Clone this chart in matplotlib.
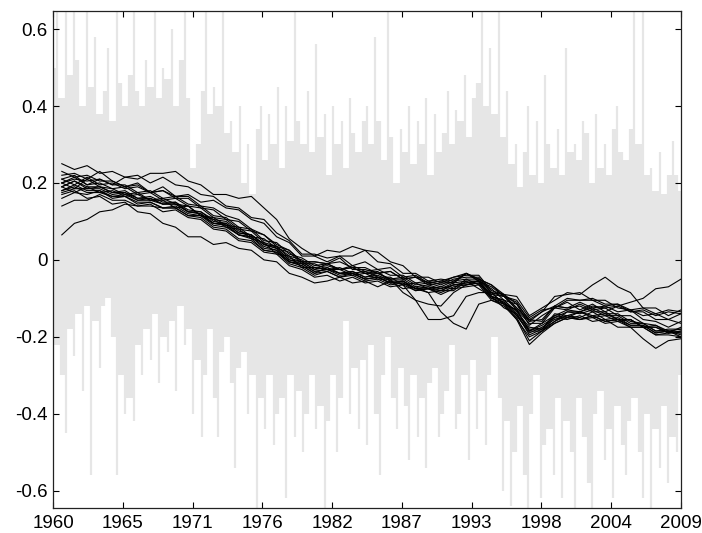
import numpy as np
import matplotlib
matplotlib.use("Agg")
import matplotlib.pyplot as plt

# ---------------- data ----------------
tick_labels = ["1960", "1965", "1971", "1976", "1982", "1987", "1993", "1998", "2004", "2009"]
ytick_vals = [-0.6, -0.4, -0.2, 0.0, 0.2, 0.4, 0.6]
ytick_labels = ["-0.6", "-0.4", "-0.2", "0", "0.2", "0.4", "0.6"]

x_start, x_end = 1960.0, 2009.9
line_start = 1960.7

# gray raw series: upper and lower swings (3 per year, 1960 .. 2009)
gray_hi = [
    0.50, 0.65, 0.42,  0.66, 0.48, 0.66,  0.52, 0.40, 0.66,  0.45, 0.58, 0.38,
    0.44, 0.55, 0.36,  0.66, 0.46, 0.40,  0.48, 0.66, 0.44,  0.40, 0.52, 0.45,
    0.66, 0.42, 0.50,  0.47, 0.60, 0.40,  0.52, 0.66, 0.42,  0.24, 0.30, 0.44,
    0.66, 0.38, 0.45,  0.40, 0.66, 0.33,  0.36, 0.28, 0.40,  0.20, 0.30, 0.17,
    0.34, 0.40, 0.26,  0.38, 0.30, 0.45,  0.24, 0.40, 0.31,  0.66, 0.36, 0.30,
    0.44, 0.28, 0.56,  0.32, 0.38, 0.22,  0.40, 0.30, 0.36,  0.24, 0.42, 0.33,
    0.28, 0.36, 0.40,  0.30, 0.58, 0.36,  0.26, 0.66, 0.32,  0.20, 0.34, 0.28,
    0.40, 0.25, 0.36,  0.30, 0.42, 0.22,  0.38, 0.28, 0.33,  0.44, 0.30, 0.39,
    0.36, 0.48, 0.32,  0.42, 0.46, 0.66,  0.40, 0.55, 0.38,  0.66, 0.32, 0.44,
    0.25, 0.30, 0.19,  0.28, 0.40, 0.22,  0.36, 0.20, 0.48,  0.30, 0.24, 0.34,
    0.22, 0.55, 0.28,  0.30, 0.26, 0.36,  0.33, 0.20, 0.38,  0.24, 0.30, 0.22,
    0.34, 0.40, 0.28,  0.26, 0.34, 0.66,  0.30, 0.66, 0.22,  0.24, 0.18, 0.28,
    0.17, 0.22, 0.31,  0.22, 0.18,
]
gray_lo = [
    -0.40, -0.22, -0.30,  -0.45, -0.18, -0.25,  -0.14, -0.34, -0.12,  -0.56, -0.16, -0.28,
    -0.12, -0.10, -0.20,  -0.56, -0.30, -0.40,  -0.36, -0.42, -0.22,  -0.30, -0.18, -0.26,
    -0.14, -0.32, -0.20,  -0.24, -0.16, -0.34,  -0.12, -0.22, -0.18,  -0.40, -0.26, -0.46,
    -0.30, -0.18, -0.36,  -0.46, -0.24, -0.20,  -0.32, -0.54, -0.28,  -0.24, -0.40, -0.30,
    -0.66, -0.36, -0.44,  -0.30, -0.48, -0.40,  -0.36, -0.62, -0.30,  -0.46, -0.34, -0.50,
    -0.40, -0.30, -0.44,  -0.38, -0.66, -0.42,  -0.30, -0.50, -0.36,  -0.16, -0.40, -0.28,
    -0.44, -0.26, -0.48,  -0.22, -0.40, -0.56,  -0.30, -0.20, -0.36,  -0.44, -0.28, -0.38,
    -0.52, -0.30, -0.46,  -0.36, -0.54, -0.32,  -0.28, -0.46, -0.40,  -0.34, -0.22, -0.44,
    -0.40, -0.30, -0.52,  -0.26, -0.44, -0.34,  -0.48, -0.30, -0.20,  -0.36, -0.60, -0.42,
    -0.64, -0.50, -0.38,  -0.56, -0.66, -0.40,  -0.30, -0.62, -0.48,  -0.44, -0.56, -0.36,
    -0.62, -0.42, -0.50,  -0.66, -0.36, -0.46,  -0.58, -0.66, -0.40,  -0.34, -0.52, -0.44,
    -0.62, -0.38, -0.48,  -0.56, -0.42, -0.36,  -0.50, -0.62, -0.40,  -0.66, -0.44, -0.54,
    -0.38, -0.58, -0.46,  -0.50, -0.30,
]

# black simulated paths (50 yearly samples each, 1960.7 .. 2009.9)
path_a = [0.25, 0.235, 0.245, 0.225, 0.23, 0.215, 0.22, 0.20, 0.215, 0.195,
          0.19, 0.17, 0.165, 0.14, 0.135, 0.11, 0.105, 0.07, 0.05, 0.015,
          0.015, 0.005, 0.01, -0.015, -0.005, -0.025, -0.02, -0.045, -0.04, -0.06,
          -0.055, -0.045, -0.035, -0.055, -0.07, -0.095, -0.105, -0.15, -0.13, -0.125,
          -0.11, -0.13, -0.115, -0.135, -0.12, -0.11, -0.10, -0.075, -0.07, -0.05]
path_b = [0.22, 0.225, 0.21, 0.23, 0.205, 0.19, 0.20, 0.175, 0.19, 0.165,
          0.165, 0.14, 0.135, 0.115, 0.105, 0.08, 0.065, 0.04, 0.025, -0.005,
          -0.005, -0.01, 0.005, -0.025, -0.025, -0.035, -0.03, -0.05, -0.045, -0.065,
          -0.06, -0.06, -0.035, -0.05, -0.065, -0.09, -0.095, -0.145, -0.125, -0.105,
          -0.085, -0.09, -0.065, -0.045, -0.07, -0.085, -0.125, -0.125, -0.145, -0.13]
path_c = [0.065, 0.095, 0.105, 0.125, 0.13, 0.145, 0.14, 0.14, 0.135, 0.135,
          0.115, 0.115, 0.09, 0.085, 0.065, 0.06, 0.035, 0.025, -0.005, -0.015,
          -0.035, -0.02, -0.035, -0.035, -0.05, -0.045, -0.06, -0.06, -0.075, -0.075,
          -0.08, -0.065, -0.065, -0.06, -0.10, -0.11, -0.145, -0.19, -0.175, -0.155,
          -0.145, -0.15, -0.135, -0.155, -0.15, -0.17, -0.17, -0.19, -0.185, -0.19]
path_d = [0.17, 0.18, 0.16, 0.165, 0.145, 0.15, 0.125, 0.12, 0.095, 0.085,
          0.06, 0.06, 0.04, 0.045, 0.03, 0.025, 0.0, -0.005, -0.035, -0.045,
          -0.06, -0.055, -0.045, -0.06, -0.055, -0.07, -0.055, -0.075, -0.07, -0.085,
          -0.08, -0.08, -0.055, -0.075, -0.095, -0.125, -0.14, -0.195, -0.18, -0.16,
          -0.145, -0.155, -0.15, -0.165, -0.16, -0.175, -0.175, -0.195, -0.19, -0.19]
path_e = [0.20, 0.185, 0.21, 0.19, 0.185, 0.17, 0.175, 0.155, 0.16, 0.145,
          0.14, 0.115, 0.105, 0.085, 0.08, 0.055, 0.045, 0.015, 0.01, -0.02,
          -0.02, -0.025, -0.025, -0.04, -0.035, -0.05, -0.05, -0.085, -0.105, -0.155,
          -0.155, -0.145, -0.095, -0.085, -0.085, -0.115, -0.13, -0.185, -0.17, -0.15,
          -0.135, -0.14, -0.13, -0.145, -0.145, -0.165, -0.165, -0.185, -0.18, -0.18]
path_f = [0.18, 0.195, 0.18, 0.18, 0.165, 0.17, 0.155, 0.155, 0.145, 0.145,
          0.125, 0.12, 0.095, 0.09, 0.065, 0.055, 0.025, 0.02, -0.005, -0.015,
          -0.035, -0.03, -0.045, -0.035, -0.05, -0.045, -0.06, -0.055, -0.075, -0.085,
          -0.135, -0.165, -0.18, -0.115, -0.105, -0.115, -0.15, -0.21, -0.185, -0.165,
          -0.15, -0.155, -0.145, -0.16, -0.155, -0.175, -0.175, -0.195, -0.195, -0.20]
path_g = [0.19, 0.205, 0.185, 0.185, 0.17, 0.175, 0.16, 0.16, 0.145, 0.15,
          0.125, 0.125, 0.10, 0.095, 0.07, 0.065, 0.04, 0.03, 0.0, -0.005,
          -0.025, -0.01, -0.025, -0.02, -0.035, -0.03, -0.055, -0.065, -0.105, -0.115,
          -0.12, -0.085, -0.065, -0.055, -0.09, -0.095, -0.13, -0.165, -0.165, -0.125,
          -0.13, -0.115, -0.13, -0.125, -0.145, -0.145, -0.165, -0.17, -0.19, -0.185]
path_h = [0.20, 0.215, 0.195, 0.21, 0.195, 0.215, 0.21, 0.225, 0.225, 0.23,
          0.205, 0.195, 0.17, 0.17, 0.16, 0.165, 0.135, 0.105, 0.055, 0.03,
          0.01, 0.025, 0.02, 0.035, 0.025, 0.02, -0.005, -0.015, -0.045, -0.045,
          -0.06, -0.045, -0.04, -0.04, -0.08, -0.09, -0.125, -0.155, -0.16, -0.12,
          -0.125, -0.11, -0.125, -0.12, -0.135, -0.13, -0.145, -0.14, -0.155, -0.14]
path_i = [0.19, 0.205, 0.19, 0.19, 0.175, 0.175, 0.155, 0.16, 0.145, 0.145,
          0.125, 0.12, 0.095, 0.09, 0.065, 0.06, 0.03, 0.025, -0.005, -0.01,
          -0.03, -0.025, -0.035, -0.03, -0.045, -0.035, -0.05, -0.05, -0.07, -0.065,
          -0.075, -0.065, -0.06, -0.055, -0.095, -0.11, -0.145, -0.185, -0.185, -0.15,
          -0.155, -0.145, -0.16, -0.155, -0.175, -0.175, -0.205, -0.23, -0.21, -0.205]
path_j = [0.21, 0.195, 0.215, 0.195, 0.20, 0.185, 0.19, 0.175, 0.18, 0.165,
          0.17, 0.15, 0.155, 0.135, 0.13, 0.105, 0.095, 0.06, 0.045, 0.01,
          0.01, -0.005, 0.01, 0.01, 0.025, -0.005, -0.01, -0.035, -0.035, -0.055,
          -0.05, -0.055, -0.035, -0.055, -0.075, -0.105, -0.115, -0.17, -0.145, -0.125,
          -0.105, -0.105, -0.10, -0.115, -0.115, -0.135, -0.13, -0.145, -0.135, -0.14]
path_k = [0.16, 0.175, 0.17, 0.18, 0.16, 0.165, 0.145, 0.15, 0.135, 0.135,
          0.115, 0.11, 0.085, 0.08, 0.055, 0.05, 0.025, 0.02, -0.01, -0.02,
          -0.04, -0.03, -0.045, -0.04, -0.055, -0.05, -0.065, -0.06, -0.08, -0.075,
          -0.085, -0.07, -0.065, -0.06, -0.10, -0.115, -0.155, -0.22, -0.19, -0.165,
          -0.15, -0.155, -0.145, -0.16, -0.155, -0.17, -0.17, -0.19, -0.185, -0.20]
path_l = [0.23, 0.215, 0.22, 0.205, 0.205, 0.19, 0.195, 0.175, 0.18, 0.16,
          0.16, 0.135, 0.13, 0.105, 0.10, 0.075, 0.065, 0.035, 0.025, -0.005,
          -0.005, -0.01, -0.005, -0.02, -0.02, -0.035, -0.03, -0.05, -0.045, -0.06,
          -0.055, -0.06, -0.035, -0.05, -0.065, -0.095, -0.11, -0.16, -0.135, -0.12,
          -0.10, -0.105, -0.105, -0.12, -0.115, -0.13, -0.125, -0.14, -0.13, -0.135]
path_m = [0.18, 0.19, 0.175, 0.175, 0.165, 0.165, 0.15, 0.15, 0.135, 0.14,
          0.12, 0.115, 0.095, 0.095, 0.07, 0.065, 0.04, 0.035, 0.005, -0.005,
          -0.025, -0.02, -0.035, -0.03, -0.045, -0.04, -0.055, -0.055, -0.075, -0.07,
          -0.08, -0.065, -0.06, -0.055, -0.095, -0.105, -0.14, -0.18, -0.18, -0.145,
          -0.15, -0.135, -0.15, -0.145, -0.16, -0.155, -0.175, -0.175, -0.19, -0.185]
path_n = [0.14, 0.155, 0.155, 0.17, 0.155, 0.155, 0.14, 0.145, 0.125, 0.13,
          0.11, 0.105, 0.08, 0.075, 0.05, 0.045, 0.02, 0.015, -0.015, -0.025,
          -0.045, -0.04, -0.055, -0.045, -0.06, -0.055, -0.07, -0.065, -0.08, -0.075,
          -0.09, -0.075, -0.07, -0.065, -0.105, -0.12, -0.155, -0.20, -0.185, -0.16,
          -0.135, -0.135, -0.12, -0.125, -0.12, -0.135, -0.135, -0.155, -0.155, -0.165]
path_o = [0.20, 0.21, 0.205, 0.21, 0.195, 0.195, 0.175, 0.18, 0.16, 0.165,
          0.145, 0.14, 0.115, 0.11, 0.085, 0.08, 0.05, 0.045, 0.015, 0.005,
          -0.015, -0.01, -0.025, -0.015, -0.03, -0.025, -0.04, -0.04, -0.06, -0.055,
          -0.065, -0.05, -0.045, -0.045, -0.085, -0.095, -0.125, -0.16, -0.155, -0.12,
          -0.125, -0.12, -0.135, -0.135, -0.155, -0.155, -0.175, -0.175, -0.19, -0.175]
path_p = [0.19, 0.175, 0.19, 0.175, 0.18, 0.165, 0.17, 0.155, 0.155, 0.135,
          0.14, 0.115, 0.11, 0.09, 0.085, 0.06, 0.055, 0.03, 0.02, -0.01,
          -0.01, -0.025, -0.02, -0.035, -0.03, -0.045, -0.045, -0.065, -0.06, -0.075,
          -0.07, -0.075, -0.05, -0.065, -0.085, -0.115, -0.13, -0.185, -0.165, -0.145,
          -0.13, -0.135, -0.125, -0.14, -0.14, -0.16, -0.165, -0.185, -0.185, -0.195]
path_q = [0.21, 0.22, 0.195, 0.20, 0.185, 0.19, 0.17, 0.175, 0.155, 0.16,
          0.14, 0.135, 0.11, 0.105, 0.08, 0.075, 0.045, 0.035, 0.01, 0.0,
          -0.02, -0.015, -0.025, -0.02, -0.035, -0.035, -0.05, -0.045, -0.065, -0.06,
          -0.07, -0.055, -0.05, -0.05, -0.085, -0.09, -0.115, -0.155, -0.135, -0.095,
          -0.09, -0.085, -0.105, -0.105, -0.125, -0.13, -0.155, -0.16, -0.175, -0.16]
path_r = [0.175, 0.185, 0.185, 0.19, 0.175, 0.18, 0.16, 0.165, 0.15, 0.15,
          0.13, 0.125, 0.105, 0.10, 0.075, 0.065, 0.04, 0.03, 0.0, -0.01,
          -0.03, -0.025, -0.04, -0.035, -0.05, -0.045, -0.06, -0.055, -0.075, -0.07,
          -0.075, -0.06, -0.055, -0.055, -0.095, -0.105, -0.135, -0.175, -0.18, -0.14,
          -0.145, -0.135, -0.145, -0.14, -0.155, -0.155, -0.175, -0.17, -0.185, -0.18]
paths = [path_a, path_b, path_c, path_d, path_e, path_f, path_g, path_h, path_i,
         path_j, path_k, path_l, path_m, path_n, path_o, path_p, path_q, path_r]

# ---------------- plot ----------------
plt.rcParams["font.family"] = ["Liberation Sans", "DejaVu Sans"]

W, H, DPI = 702, 533, 100
fig = plt.figure(figsize=(W / DPI, H / DPI), dpi=DPI)
ax = fig.add_axes([53 / W, 1 - 508 / H, (681 - 53) / W, (508 - 11) / H])

GRAY = "#e6e6e6"
n = min(len(gray_hi), len(gray_lo))
hi = np.asarray(gray_hi[:n])
lo = np.asarray(gray_lo[:n])
gx = np.linspace(x_start, x_end, n)

# between neighbouring swings the series covers the overlap of both ranges
gap_hi = np.append(np.minimum(hi[:-1], hi[1:]), hi[-1])
gap_lo = np.append(np.maximum(lo[:-1], lo[1:]), lo[-1])
ax.fill_between(gx, gap_lo, gap_hi, step="post", color=GRAY, linewidth=0, zorder=1)
# each swing as a thin vertical stroke
ax.vlines(gx, lo, hi, color=GRAY, linewidth=1.6, zorder=1)

for p in paths:
    px = np.linspace(line_start, x_end, len(p))
    ax.plot(px, p, color="black", lw=0.8, zorder=2)

ax.set_xlim(x_start, x_end)
ax.set_ylim(-0.645, 0.647)
ax.set_xticks(np.linspace(x_start, x_end, len(tick_labels)))
ax.set_xticklabels(tick_labels)
ax.set_yticks(ytick_vals)
ax.set_yticklabels(ytick_labels)

ax.tick_params(direction="in", length=4, width=0.8, top=True, right=True,
               labelsize=13.5, colors="black")
ax.tick_params(axis="x", pad=5)
ax.tick_params(axis="y", pad=4)
for s in ax.spines.values():
    s.set_linewidth(0.9)
    s.set_color("#222222")
    s.set_zorder(3)

fig.savefig("out.png", dpi=DPI)
